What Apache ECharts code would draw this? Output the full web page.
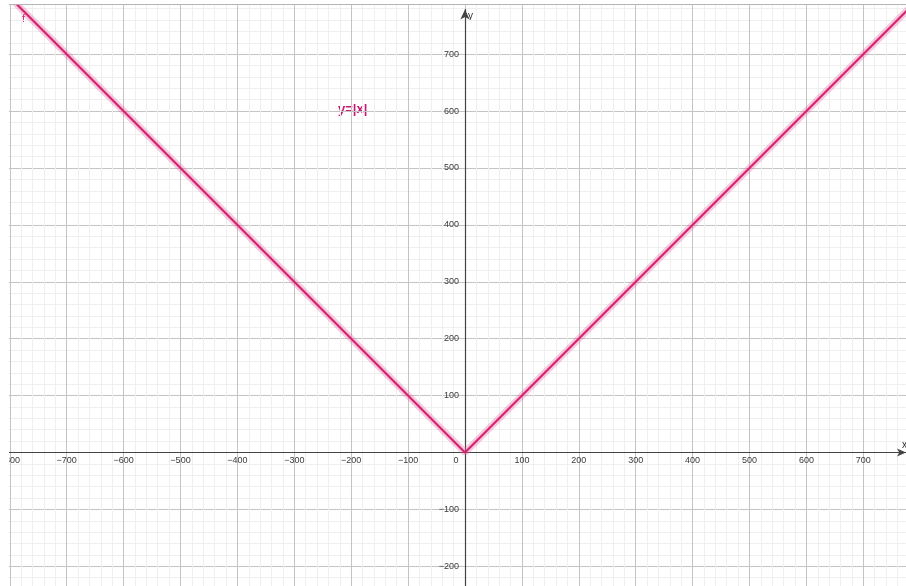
<!DOCTYPE html>
<html>
<head>
<meta charset="utf-8">
<script src="https://cdn.jsdelivr.net/npm/echarts@6/dist/echarts.min.js"></script>
<style>
  html, body { margin: 0; padding: 0; background: #fff; }
  #wrap { position: relative; width: 906px; height: 586px; overflow: hidden; background: #fff; }
  #view { position: absolute; left: 9px; top: 4px; width: 897px; height: 582px; overflow: hidden; }
  #frame { position: absolute; left: 9px; top: 4px; width: 897px; height: 1px; background: #b4b4b4; }
  #chart { width: 897px; height: 582px; }
</style>
</head>
<body>
<div id="wrap">
  <div id="view"><div id="chart"></div></div>
  <div id="frame"></div>
</div>
<script>
  // f(x) = |x|
  var fnX = [-900, 0, 800]
  var fnY = [900, 0, 800]
  // tick range of the grid (labels every 100, minor lines every 20)
  var xRange = [-900, 800]
  var yRange = [-300, 800]
  var tickStep = 100
  var minorSplit = 5
  var fnLabel = 'y=|x|'

  // view geometry (px inside the view box)
  var W = 897, H = 582
  var ox = 456, oy = 448.5   // pixel of the origin
  var k = 0.569              // px per unit
  var arrowTop = 5.5

  var chart = echarts.init(document.getElementById('chart'), null, { renderer: 'canvas' })

  var font = 'Liberation Sans'
  function fmt(v) {
    return String(v).replace('-', '\u2212')
  }

  var points = fnX.map(function (x, i) { return [x, fnY[i]] })

  // main box, bigger than the view so the round ticks start off screen
  var mainBox = {
    left: ox + xRange[0] * k,
    right: W - (ox + xRange[1] * k),
    top: oy - yRange[1] * k,
    bottom: H - (oy - yRange[0] * k)
  }

  var gridLines = {
    axisLine: { show: false, onZero: false },
    axisTick: { show: false },
    axisLabel: { show: false },
    minorTick: { show: false, splitNumber: minorSplit },
    splitLine: { show: true, lineStyle: { color: '#c4c4c4', width: 1 } },
    minorSplitLine: { show: true, lineStyle: { color: '#efefef', width: 1 } }
  }
  var dummy = { type: 'value', show: false, min: 0, max: 1 }

  chart.setOption({
    animation: false,
    backgroundColor: '#fff',
    grid: [
      Object.assign({ outerBoundsMode: 'none', containLabel: false }, mainBox),
      { left: 0, right: 0, top: arrowTop, bottom: 0, outerBoundsMode: 'none', containLabel: false },
      // x tick labels sit on the bottom edge of this one
      { left: mainBox.left, right: mainBox.right, top: 0, bottom: H - oy, outerBoundsMode: 'none', containLabel: false },
      // y tick labels sit on the left edge of this one
      { left: ox, right: 0, top: mainBox.top, bottom: mainBox.bottom, outerBoundsMode: 'none', containLabel: false }
    ],
    xAxis: [
      Object.assign({ type: 'value', gridIndex: 0, min: xRange[0], max: xRange[1], interval: tickStep }, gridLines),
      {
        type: 'value',
        gridIndex: 1,
        min: -ox / k,
        max: (W - ox) / k,
        axisLine: { onZero: true, symbol: ['none', 'arrow'], symbolSize: [6, 9], lineStyle: { color: '#444', width: 1.2 } },
        axisTick: { show: false },
        axisLabel: { show: false },
        splitLine: { show: false }
      },
      {
        type: 'value',
        gridIndex: 2,
        position: 'bottom',
        min: xRange[0],
        max: xRange[1],
        interval: tickStep,
        axisLine: { show: false, onZero: false },
        axisTick: { show: false },
        splitLine: { show: false },
        axisLabel: {
          margin: 4,
          fontFamily: font,
          fontSize: 9,
          color: '#3a3a3a',
          formatter: function (v) { return v === 0 ? '{o|0}' : fmt(v) },
          rich: { o: { padding: [0, 18, 0, 0], fontFamily: font, fontSize: 9, color: '#3a3a3a' } }
        }
      },
      Object.assign({ gridIndex: 3 }, dummy)
    ],
    yAxis: [
      Object.assign({ type: 'value', gridIndex: 0, min: yRange[0], max: yRange[1], interval: tickStep }, gridLines),
      {
        type: 'value',
        gridIndex: 1,
        min: -(H - oy) / k,
        max: (oy - arrowTop) / k,
        axisLine: { onZero: true, symbol: ['none', 'arrow'], symbolSize: [7, 10], lineStyle: { color: '#444', width: 1.2 } },
        axisTick: { show: false },
        axisLabel: { show: false },
        splitLine: { show: false }
      },
      Object.assign({ gridIndex: 2 }, dummy),
      {
        type: 'value',
        gridIndex: 3,
        position: 'left',
        min: yRange[0],
        max: yRange[1],
        interval: tickStep,
        axisLine: { show: false, onZero: false },
        axisTick: { show: false },
        splitLine: { show: false },
        axisLabel: {
          margin: 6,
          fontFamily: font,
          fontSize: 9,
          color: '#3a3a3a',
          formatter: function (v) { return v === 0 ? '' : fmt(v) }
        }
      }
    ],
    series: [{
      // soft halo under the curve
      type: 'line',
      xAxisIndex: 0,
      yAxisIndex: 0,
      data: points,
      showSymbol: false,
      silent: true,
      lineStyle: { color: 'rgba(232, 110, 165, 0.35)', width: 7 }
    }, {
      type: 'line',
      xAxisIndex: 0,
      yAxisIndex: 0,
      data: points,
      showSymbol: false,
      silent: true,
      lineStyle: { color: '#d6246e', width: 2.2 }
    }],
    graphic: [{
      type: 'text', left: 329, top: 99,
      style: { text: fnLabel, fill: '#c71a70', fontWeight: 'bold', fontSize: 13, fontFamily: font }
    }, {
      type: 'text', left: 13, top: 9,
      style: { text: 'f', fill: '#d6246e', fontSize: 11, fontFamily: font }
    }, {
      type: 'text', left: 459, top: 7,
      style: { text: 'y', fill: '#333', fontSize: 10, fontFamily: font }
    }, {
      type: 'text', left: 893, top: 436,
      style: { text: 'x', fill: '#333', fontSize: 10, fontFamily: font }
    }]
  })
</script>
</body>
</html>
